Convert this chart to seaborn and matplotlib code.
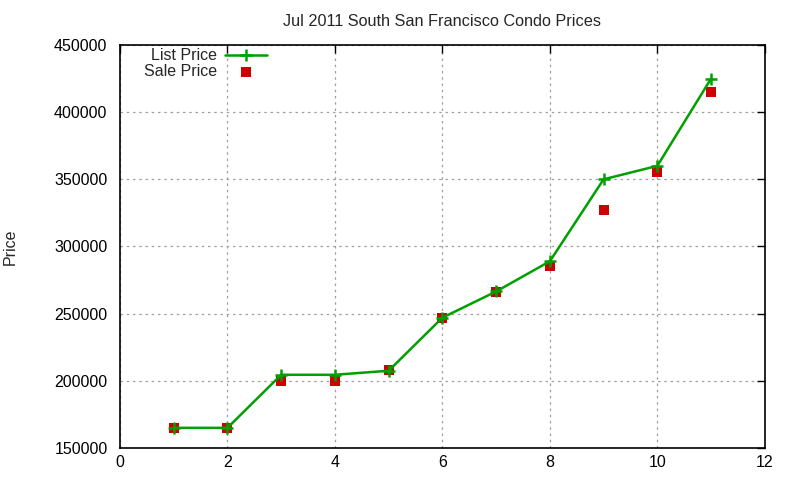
import matplotlib
matplotlib.use("Agg")
import matplotlib.pyplot as plt
import seaborn as sns
import pandas as pd

# data
months = [1, 2, 3, 4, 5, 6, 7, 8, 9, 10, 11]
list_price = [165000, 165000, 204500, 204500, 207500, 247000, 266500, 289000, 350000, 360000, 425000]
sale_price = [165000, 165000, 200000, 200000, 208000, 247000, 266000, 285500, 327500, 355500, 415000]

x_ticks = [0, 2, 4, 6, 8, 10, 12]
y_ticks = [150000, 200000, 250000, 300000, 350000, 400000, 450000]

df = pd.DataFrame({"Month": months, "List Price": list_price, "Sale Price": sale_price})

sns.set_style("white")
plt.rcParams["font.family"] = ["Liberation Sans", "DejaVu Sans"]

fig = plt.figure(figsize=(8, 4.8), dpi=100)
ax = fig.add_axes([0.15, 0.0667, 0.806, 0.8396])

green = "#00a000"
red = "#d00000"
sns.lineplot(data=df, x="Month", y="List Price", ax=ax, color=green, linewidth=1.8,
             marker="+", markersize=9, markeredgewidth=1.8, markeredgecolor=green,
             label="List Price")
sns.scatterplot(data=df, x="Month", y="Sale Price", ax=ax, color=red, marker="s",
                s=55, linewidth=0, label="Sale Price")

ax.set_xlim(0, 12)
ax.set_ylim(150000, 450000)
ax.set_xticks(x_ticks)
ax.set_yticks(y_ticks)
ax.set_xticklabels([str(t) for t in x_ticks])
ax.set_yticklabels([str(t) for t in y_ticks])

ax.grid(True, color="#a0a0a0", linestyle=(0, (2, 3)), linewidth=0.9)
ax.tick_params(direction="in", length=6, width=1.0, top=True, right=True,
               labelsize=11.5, colors="black")
ax.tick_params(axis="y", pad=9)
ax.tick_params(axis="x", pad=5)
for s in ax.spines.values():
    s.set_visible(True)
    s.set_color("black")
    s.set_linewidth(1.2)

ax.set_xlabel("")
ax.set_ylabel("Price", fontsize=11.5, labelpad=26)
ax.set_title("Jul 2011 South San Francisco Condo Prices", fontsize=11.7, pad=14)

leg = ax.legend(loc="upper left", bbox_to_anchor=(0.015, 1.027), frameon=False,
                markerfirst=False, fontsize=11.5, handlelength=2.6, handletextpad=0.5,
                labelspacing=0.05)

fig.savefig("out.png", dpi=100)
